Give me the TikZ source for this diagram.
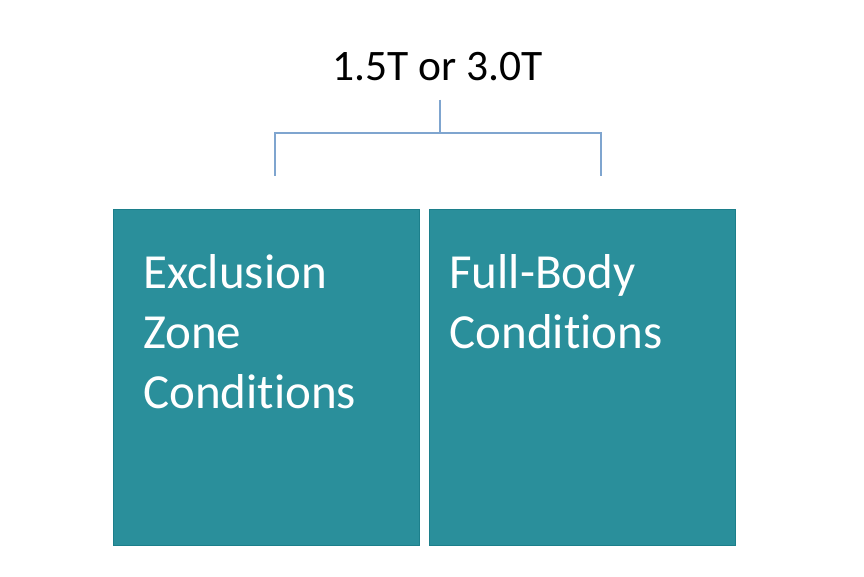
\documentclass[tikz,border=0pt]{standalone}
\usepackage{fontspec}
\setmainfont{Carlito}[Ligatures=NoCommon]
\usetikzlibrary{positioning}
\definecolor{boxTeal}{HTML}{2A8F9B}
\definecolor{boxEdge}{HTML}{1C7F8B}
\definecolor{brkBlue}{HTML}{7FA5CF}
\tikzset{
  fieldbox/.style={draw=boxEdge, line width=1.2pt, fill=boxTeal,
    minimum width=306pt, minimum height=336pt, inner sep=0pt},
  fieldtext/.style={text=white, align=left, inner sep=0pt, anchor=north west,
    font=\fontsize{49}{60}\selectfont},
  bracket/.style={draw=brkBlue, line width=2pt}
}
\begin{document}
\begin{tikzpicture}[x=1pt, y=1pt]
  \useasboundingbox (0,0) rectangle (864,576);

  % field strength heading
  \node[font=\fontsize{43.5}{50}\selectfont, inner sep=0pt] (field) at (438,509) {1.5T or 3.0T};

  % the two condition boxes side by side
  \node[fieldbox, anchor=north west] (exclbox) at (113,367) {};
  \node[fieldbox, right=9pt of exclbox] (fullbox) {};
  \node[fieldtext] (excltext) at ([xshift=30pt, yshift=-45pt]exclbox.north west)
    {Exclusion\\Zone\\Conditions};
  \node[fieldtext] (fulltext) at ([xshift=20pt, yshift=-45pt]fullbox.north west)
    {Full-Body\\Conditions};

  % bracket from heading down to both boxes
  \coordinate (stem) at (440,476);
  \coordinate (legL) at (275,400);
  \coordinate (legR) at (601,400);
  \draw[bracket] (stem) -- ++(0,-33) -| (legL);
  \draw[bracket] (stem) -- ++(0,-33) -| (legR);
\end{tikzpicture}
\end{document}
